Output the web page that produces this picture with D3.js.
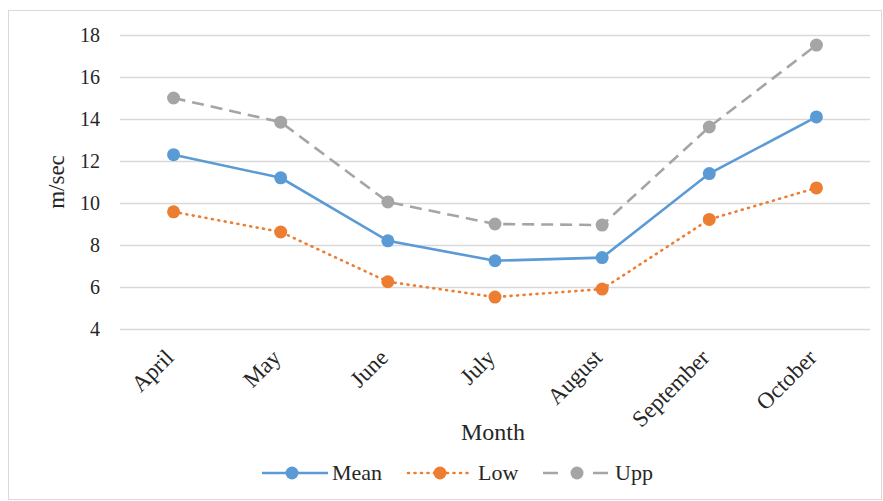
<!DOCTYPE html>
<html><head><meta charset="utf-8">
<script src="https://cdn.jsdelivr.net/npm/d3@7"></script>
<style>body{margin:0;background:#fff}svg{display:block}text{font-family:"Liberation Serif","Times New Roman",serif;fill:#262626}</style>
</head><body>
<script>
const months = ["April","May","June","July","August","September","October"];
const meanVals = [12.3, 11.2, 8.2, 7.25, 7.4, 11.4, 14.1];
const lowVals = [9.58, 8.62, 6.25, 5.52, 5.9, 9.22, 10.72];
const uppVals = [15.0, 13.85, 10.05, 9.0, 8.95, 13.62, 17.52];
const yTicks = [4,6,8,10,12,14,16,18];

const W=883,H=501;
const svg=d3.select("body").append("svg").attr("width",W).attr("height",H);
svg.append("rect").attr("x",8.5).attr("y",10.5).attr("width",873).attr("height",489).attr("fill","#fff").attr("stroke","#D9D9D9");

const x=d3.scalePoint().domain(months).range([120,870]).padding(0.5);
const y=d3.scaleLinear().domain([4,18]).range([329,35]);

const yAxis=svg.append("g").attr("transform","translate(120,0)")
  .call(d3.axisLeft(y).tickValues(yTicks).tickSize(-750).tickFormat(d3.format("d")));
yAxis.select(".domain").remove();
yAxis.selectAll("line").attr("stroke","#D9D9D9").attr("stroke-width",1.3);
yAxis.selectAll("text").attr("x",-20).attr("font-size",20);

const xAxis=svg.append("g").attr("transform","translate(0,329)").call(d3.axisBottom(x).tickSize(0));
xAxis.select(".domain").remove();
xAxis.selectAll("text").attr("font-size",23).attr("text-anchor","end")
  .attr("transform","translate(1,30) rotate(-45)").attr("dy",0).attr("y",0).attr("x",0);

svg.append("text").attr("x",493).attr("y",440).attr("text-anchor","middle").attr("font-size",24).text("Month");
svg.append("text").attr("transform","translate(64,182) rotate(-90)").attr("text-anchor","middle").attr("font-size",23).text("m/sec");

const series=[
  {name:"Mean",vals:meanVals,color:"#5B9BD5",dash:null,cap:"butt"},
  {name:"Low",vals:lowVals,color:"#ED7D31",dash:"1,5.5",cap:"round"},
  {name:"Upp",vals:uppVals,color:"#A5A5A5",dash:"12,7",cap:"butt"}
];
const line=d3.line().x((d,i)=>x(months[i])).y(d=>y(d));
series.forEach(s=>{
  const g=svg.append("g");
  g.append("path").attr("d",line(s.vals)).attr("fill","none").attr("stroke",s.color)
    .attr("stroke-width",2.6).attr("stroke-dasharray",s.dash).attr("stroke-linecap",s.cap);
  g.selectAll("circle").data(s.vals).enter().append("circle")
    .attr("cx",(d,i)=>x(months[i])).attr("cy",d=>y(d)).attr("r",6.5).attr("fill",s.color);
});

const legX=[262,408,543];
const legLen=[66,62,65];
const legDot=[30,32,34];
const legDash=[null,"1,5.5","15,35,15"];
series.forEach((s,i)=>{
  const g=svg.append("g").attr("transform",`translate(${legX[i]},473)`);
  g.append("line").attr("x1",0).attr("x2",legLen[i]).attr("y1",0).attr("y2",0)
    .attr("stroke",s.color).attr("stroke-width",2.6).attr("stroke-dasharray",legDash[i]).attr("stroke-linecap",s.cap);
  g.append("circle").attr("cx",legDot[i]).attr("cy",0).attr("r",6.5).attr("fill",s.color);
  g.append("text").attr("x",i===2?72:70).attr("y",7).attr("font-size",22).text(s.name);
});
</script>
</body></html>
